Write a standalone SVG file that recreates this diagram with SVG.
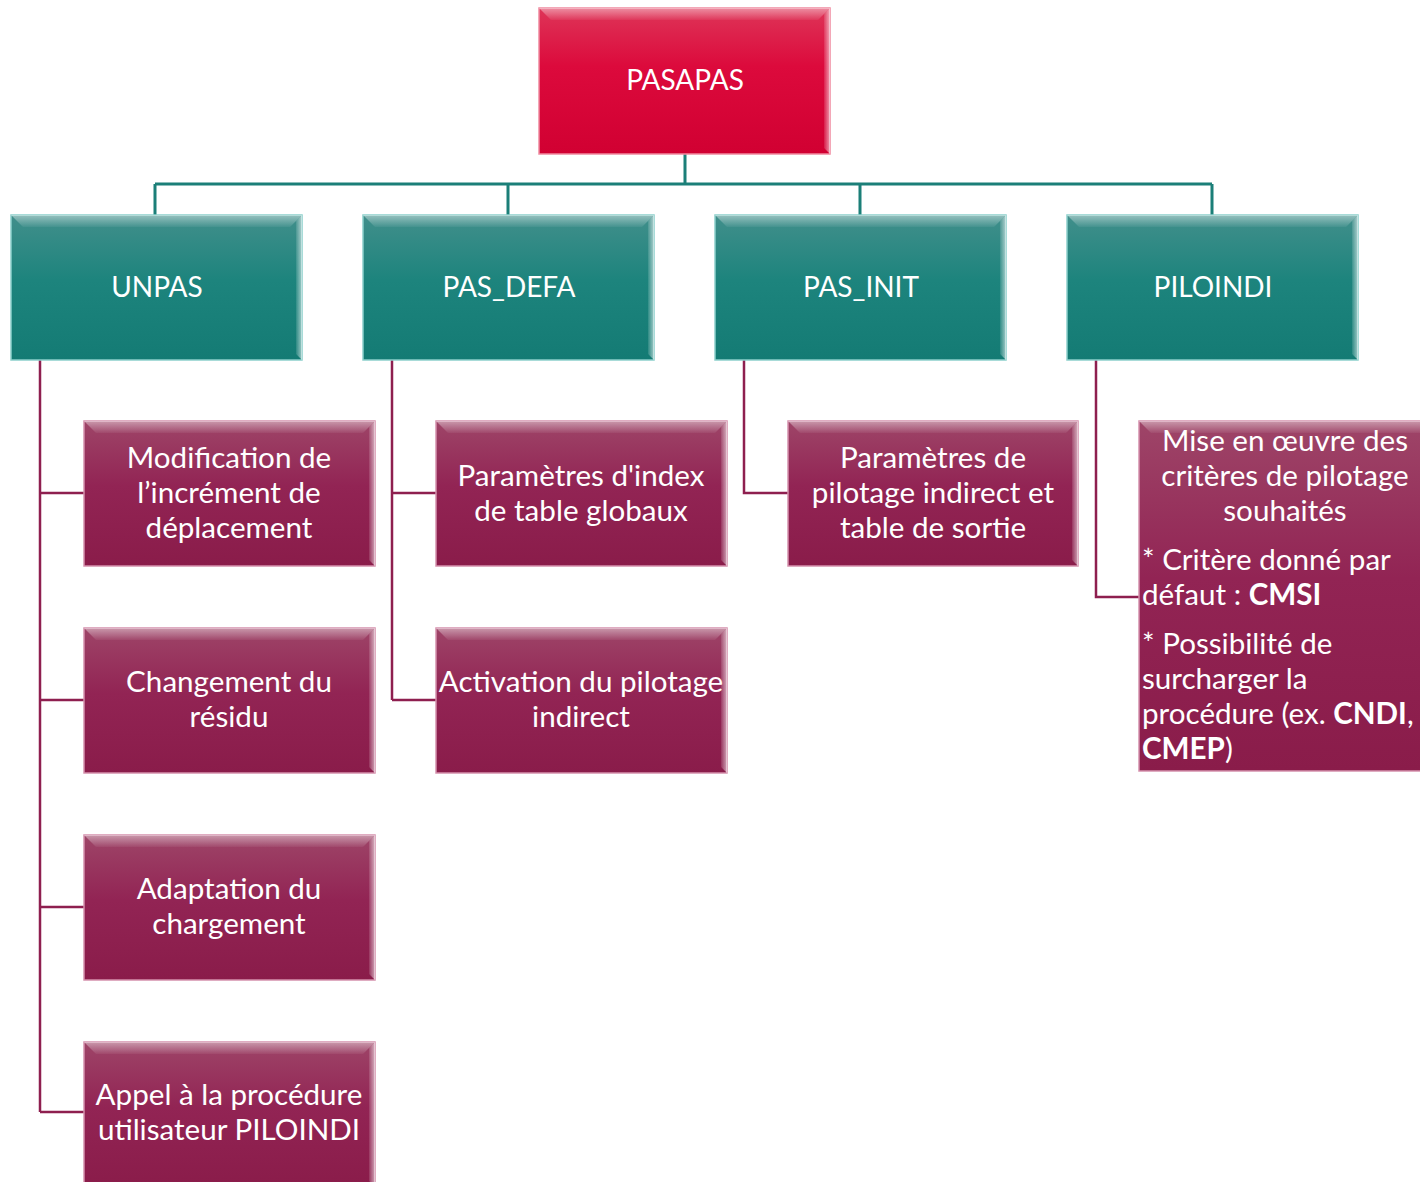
<svg xmlns="http://www.w3.org/2000/svg" width="1420" height="1182" viewBox="0 0 1420 1182">
<defs>
<linearGradient id="gRed" x1="0" y1="0" x2="0" y2="1">
<stop offset="0" stop-color="#de3558"/>
<stop offset="0.4" stop-color="#dc0a3c"/>
<stop offset="1" stop-color="#d10032"/>
</linearGradient>
<linearGradient id="gTeal" x1="0" y1="0" x2="0" y2="1">
<stop offset="0" stop-color="#418f8b"/>
<stop offset="0.45" stop-color="#1d847d"/>
<stop offset="1" stop-color="#147b74"/>
</linearGradient>
<linearGradient id="gMag" x1="0" y1="0" x2="0" y2="1">
<stop offset="0" stop-color="#9e4568"/>
<stop offset="0.45" stop-color="#922454"/>
<stop offset="1" stop-color="#8a1c4a"/>
</linearGradient>
<linearGradient id="gHi" x1="0" y1="0" x2="0" y2="1">
<stop offset="0" stop-color="#ffffff" stop-opacity="0.45"/>
<stop offset="1" stop-color="#ffffff" stop-opacity="0.05"/>
</linearGradient>
<linearGradient id="gHiR" x1="0" y1="0" x2="1" y2="0">
<stop offset="0" stop-color="#ffffff" stop-opacity="0.1"/>
<stop offset="1" stop-color="#ffffff" stop-opacity="0.6"/>
</linearGradient>
</defs>
<style>
.t{font-family:Lato,"Open Sans","Liberation Sans",sans-serif;font-size:29.6px;fill:#ffffff;text-anchor:middle}
.h{font-size:28px}
.tl{font-family:Lato,"Open Sans","Liberation Sans",sans-serif;font-size:29.6px;fill:#ffffff}
.b{font-weight:bold}
.ct{fill:none;stroke:#1b7f78;stroke-width:3}
.cm{fill:none;stroke:#8e1f4f;stroke-width:2.5}
.red{fill:url(#gRed);stroke:#f08aa0;stroke-width:1.5}
.teal{fill:url(#gTeal);stroke:#8ccfcb;stroke-width:1.5}
.mag{fill:url(#gMag);stroke:#d591ad;stroke-width:1.5}
</style>

<g id="connectors">
<path class="ct" d="M685 154V184M155 184H1212M155 184V215M508 184V215M860 184V215M1212 184V215"/>
<path class="cm" d="M40 360V1112M40 493H84M40 700H84M40 907H84M40 1112H84"/>
<path class="cm" d="M392 360V700M392 493H436M392 700H436"/>
<path class="cm" d="M744 360V493H788"/>
<path class="cm" d="M1096 360V597H1139"/>
</g>

<g id="n-pasapas">
<rect class="red" x="539" y="8" width="291" height="146"/>
<polygon points="539,8 830,8 818,20 551,20" fill="url(#gHi)"/>
<polygon points="830,8 830,154 824,148 824,14" fill="url(#gHiR)"/>
<text class="t h" x="685" y="90">PASAPAS</text>
</g>

<g id="n-unpas">
<rect class="teal" x="11" y="215" width="291" height="145"/>
<polygon points="11,215 302,215 290,227 23,227" fill="url(#gHi)"/>
<polygon points="302,215 302,360 296,354 296,221" fill="url(#gHiR)"/>
<text class="t h" x="157" y="297">UNPAS</text>
</g>

<g id="n-pas-defa">
<rect class="teal" x="363" y="215" width="291" height="145"/>
<polygon points="363,215 654,215 642,227 375,227" fill="url(#gHi)"/>
<polygon points="654,215 654,360 648,354 648,221" fill="url(#gHiR)"/>
<text class="t h" x="509" y="297">PAS_DEFA</text>
</g>

<g id="n-pas-init">
<rect class="teal" x="715" y="215" width="291" height="145"/>
<polygon points="715,215 1006,215 994,227 727,227" fill="url(#gHi)"/>
<polygon points="1006,215 1006,360 1000,354 1000,221" fill="url(#gHiR)"/>
<text class="t h" x="861" y="297">PAS_INIT</text>
</g>

<g id="n-piloindi">
<rect class="teal" x="1067" y="215" width="291" height="145"/>
<polygon points="1067,215 1358,215 1346,227 1079,227" fill="url(#gHi)"/>
<polygon points="1358,215 1358,360 1352,354 1352,221" fill="url(#gHiR)"/>
<text class="t h" x="1213" y="297">PILOINDI</text>
</g>

<g id="n-modif">
<rect class="mag" x="84" y="421" width="291" height="145"/>
<polygon points="84,421 375,421 363,433 96,433" fill="url(#gHi)"/>
<polygon points="375,421 375,566 369,560 369,427" fill="url(#gHiR)"/>
<text class="t" x="229" y="468">Modification de</text>
<text class="t" x="229" y="503">l’incrément de</text>
<text class="t" x="229" y="538">déplacement</text>
</g>

<g id="n-residu">
<rect class="mag" x="84" y="628" width="291" height="145"/>
<polygon points="84,628 375,628 363,640 96,640" fill="url(#gHi)"/>
<polygon points="375,628 375,773 369,767 369,634" fill="url(#gHiR)"/>
<text class="t" x="229" y="692">Changement du</text>
<text class="t" x="229" y="727">résidu</text>
</g>

<g id="n-charg">
<rect class="mag" x="84" y="835" width="291" height="145"/>
<polygon points="84,835 375,835 363,847 96,847" fill="url(#gHi)"/>
<polygon points="375,835 375,980 369,974 369,841" fill="url(#gHiR)"/>
<text class="t" x="229" y="899">Adaptation du</text>
<text class="t" x="229" y="934">chargement</text>
</g>

<g id="n-appel">
<rect class="mag" x="84" y="1042" width="291" height="145"/>
<polygon points="84,1042 375,1042 363,1054 96,1054" fill="url(#gHi)"/>
<polygon points="375,1042 375,1187 369,1181 369,1048" fill="url(#gHiR)"/>
<text class="t" x="229" y="1105">Appel à la procédure</text>
<text class="t" x="229" y="1140">utilisateur PILOINDI</text>
</g>

<g id="n-index">
<rect class="mag" x="436" y="421" width="291" height="145"/>
<polygon points="436,421 727,421 715,433 448,433" fill="url(#gHi)"/>
<polygon points="727,421 727,566 721,560 721,427" fill="url(#gHiR)"/>
<text class="t" x="581" y="486">Paramètres d'index</text>
<text class="t" x="581" y="521">de table globaux</text>
</g>

<g id="n-activ">
<rect class="mag" x="436" y="628" width="291" height="145"/>
<polygon points="436,628 727,628 715,640 448,640" fill="url(#gHi)"/>
<polygon points="727,628 727,773 721,767 721,634" fill="url(#gHiR)"/>
<text class="t" x="581" y="692">Activation du pilotage</text>
<text class="t" x="581" y="727">indirect</text>
</g>

<g id="n-params">
<rect class="mag" x="788" y="421" width="290" height="145"/>
<polygon points="788,421 1078,421 1066,433 800,433" fill="url(#gHi)"/>
<polygon points="1078,421 1078,566 1072,560 1072,427" fill="url(#gHiR)"/>
<text class="t" x="933" y="468">Paramètres de</text>
<text class="t" x="933" y="503">pilotage indirect et</text>
<text class="t" x="933" y="538">table de sortie</text>
</g>

<g id="n-criteres">
<rect class="mag" x="1139" y="421" width="295" height="350"/>
<polygon points="1139,421 1434,421 1422,433 1151,433" fill="url(#gHi)"/>
<text class="t" x="1285" y="451">Mise en œuvre des</text>
<text class="t" x="1285" y="486">critères de pilotage</text>
<text class="t" x="1285" y="521">souhaités</text>
<text class="tl" x="1142" y="570">* Critère donné par</text>
<text class="tl" x="1142" y="605">défaut : <tspan class="b">CMSI</tspan></text>
<text class="tl" x="1142" y="654">* Possibilité de</text>
<text class="tl" x="1142" y="689">surcharger la</text>
<text class="tl" x="1142" y="724">procédure (ex. <tspan class="b">CNDI</tspan>,</text>
<text class="tl" x="1142" y="759"><tspan class="b">CMEP</tspan>)</text>
</g>
</svg>
